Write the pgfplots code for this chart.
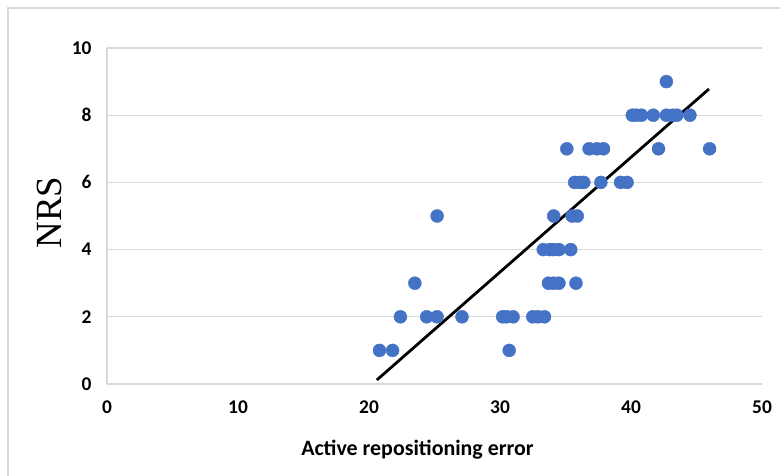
\documentclass[border=0pt]{standalone}
\usepackage{fontspec}
\setmainfont{Carlito}
\newfontfamily\serifnrs{Liberation Serif}
\usepackage{pgfplots}
\pgfplotsset{compat=1.18}
\definecolor{dotblue}{HTML}{4472C4}
\definecolor{gridgray}{HTML}{D9D9D9}
\definecolor{framegray}{HTML}{D9D9D9}

\begin{document}
\begin{tikzpicture}
\begin{axis}[name=ax,
  scale only axis, width=655bp, height=336bp,
  xmin=0, xmax=50, ymin=0, ymax=10,
  xtick={0,10,...,50}, ytick={0,2,...,10},
  axis x line*=bottom, axis y line*=left,
  axis line style={draw=gridgray, line width=1.2bp},
  ymajorgrids, grid style={draw=gridgray, line width=1.2bp},
  major tick length=0pt,
  /pgf/number format/assume math mode=true,
  ticklabel style={font=\fontsize{19.5}{21}\selectfont\bfseries},
  yticklabel style={xshift=-12bp},
  xticklabel style={yshift=-13bp},
  xlabel={Active repositioning error},
  xlabel style={font=\fontsize{22}{25}\selectfont\bfseries,
    at={(axis description cs:0.5,0)}, anchor=base, yshift=-71bp, xshift=-17bp},
  ylabel={NRS},
  ylabel style={font=\fontsize{37}{40}\serifnrs,
    at={(axis description cs:-0.0878,0.510)}, anchor=center},
  clip=false]
% scatter points
\addplot[only marks, mark=*, mark size=6.5bp, draw=dotblue, fill=dotblue] coordinates {
  (20.8,1) (21.8,1) (30.7,1)
  (22.4,2) (24.4,2) (25.2,2) (27.1,2) (30.2,2) (30.5,2) (31.0,2) (32.5,2) (32.9,2) (33.4,2)
  (23.5,3) (33.7,3) (34.1,3) (34.5,3) (35.8,3)
  (33.3,4) (33.8,4) (34.1,4) (34.5,4) (35.4,4)
  (25.2,5) (34.1,5) (35.5,5) (35.9,5)
  (35.7,6) (36.1,6) (36.4,6) (37.7,6) (39.2,6) (39.7,6)
  (35.1,7) (36.8,7) (37.4,7) (37.9,7) (42.1,7) (46.0,7)
  (40.1,8) (40.4,8) (40.8,8) (41.7,8) (42.7,8) (43.2,8) (43.5,8) (44.5,8)
  (42.7,9)
};
% trend line
\addplot[black, line width=2.8bp] coordinates {(20.6,0.12) (45.95,8.78)};
\end{axis}
\coordinate (O) at ([shift={(-107bp,-92bp)}]ax.south west);
\draw[framegray, line width=1.5bp] ([shift={(8bp,0bp)}]O) -- ([shift={(8bp,468bp)}]O) -- ([shift={(780bp,468bp)}]O);
\pgfresetboundingbox
\path (O) rectangle ([shift={(780bp,476bp)}]O);
\end{tikzpicture}
\end{document}
